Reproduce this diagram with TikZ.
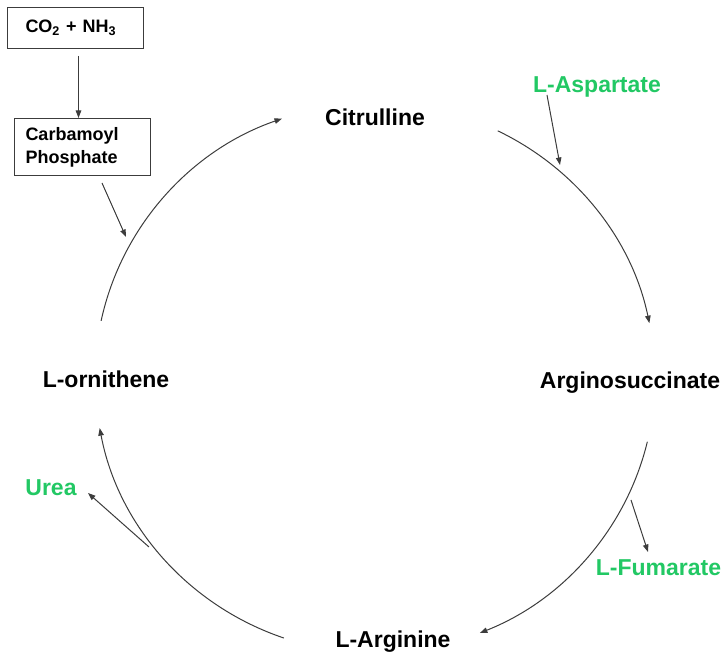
\documentclass[tikz,border=0pt]{standalone}
\usepackage{fontspec}
\setmainfont{Liberation Sans}
\usetikzlibrary{arrows.meta,calc}
\definecolor{lblgreen}{RGB}{34,200,100}
\definecolor{linegray}{RGB}{60,60,60}
\begin{document}
\begin{tikzpicture}[x=1pt,y=1pt,
  conn/.style={draw=linegray,line width=1pt,-{Triangle[length=7.5pt,width=5.5pt]}},
  big/.style={font=\fontsize{23}{27}\selectfont\bfseries,inner sep=0pt,anchor=base},
  blk/.style={big,text=black},
  grn/.style={big,text=lblgreen},
  boxnode/.style={draw=linegray,line width=1pt,anchor=north west,minimum width=136pt,
    font=\fontsize{18}{23}\selectfont\bfseries,align=left,inner ysep=0pt}]
\useasboundingbox (0,0) rectangle (726,653);
% boxes
\node[boxnode,minimum height=41pt,inner xsep=18pt,text width=100pt] (b1) at (7,646) {CO\textsubscript{2} + NH\textsubscript{3}};
\node[boxnode,minimum height=57pt,inner xsep=11pt,text width=114pt] (b2) at (14,535) {Carbamoyl\\Phosphate};
% labels
\node[blk] (cit) at (375,527) {Citrulline};
\node[grn] (asp) at (597,560) {L-Aspartate};
\node[blk] (args) at (630,264) {Arginosuccinate};
\node[blk] (orn) at (106,265) {L-ornithene};
\node[grn] (urea) at (51,157) {Urea};
\node[grn] (fum) at (658.5,77) {L-Fumarate};
\node[blk] (arg) at (393,5) {L-Arginine};
% cycle
\coordinate (c) at (375,275);
\draw[conn] ($(c)+(168:280 and 275)$) arc[start angle=168,end angle=109.4,x radius=280,y radius=275];
\draw[conn] ($(c)+(64:280 and 275)$) arc[start angle=64,end angle=11.5,x radius=280,y radius=275];
\draw[conn] ($(c)+(-13.4:280 and 275)$) arc[start angle=-13.4,end angle=-68,x radius=280,y radius=275];
\draw[conn] ($(c)+(251:280 and 275)$) arc[start angle=251,end angle=190.5,x radius=280,y radius=275];
% side arrows
\draw[conn] ([xshift=3pt,yshift=-7pt]b1.south) -- ([xshift=3pt]b1.south |- b2.north);
\coordinate (cpS) at (102,470);
\coordinate (cpE) at (126,416);
\draw[conn] (cpS) -- (cpE);
\coordinate (aspS) at (547,558);
\coordinate (aspE) at (560,488);
\draw[conn] (aspS) -- (aspE);
\coordinate (fumS) at (631,153);
\coordinate (fumE) at (648,101);
\draw[conn] (fumS) -- (fumE);
\coordinate (urS) at (149,106);
\coordinate (urE) at (88,160);
\draw[conn] (urS) -- (urE);
\end{tikzpicture}
\end{document}
